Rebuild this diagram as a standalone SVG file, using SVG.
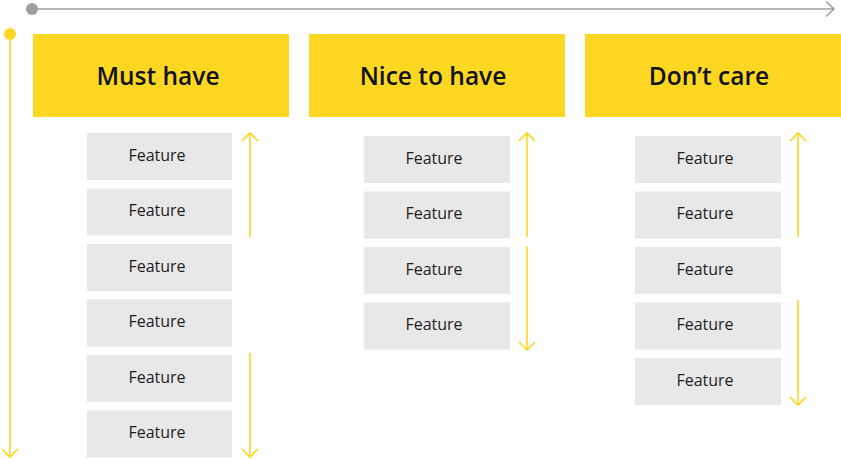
<svg xmlns="http://www.w3.org/2000/svg" width="841" height="459" viewBox="0 0 841 459">
<style>
.hdr{fill:#FDD722}
.ht{font-family:"Open Sans","Noto Sans",sans-serif;font-size:24.5px;font-weight:600;fill:#111;text-anchor:middle}
.fb{fill:#E8E8E8}
.ft{font-family:"Open Sans","Noto Sans",sans-serif;font-size:16px;fill:#1e1e1e;text-anchor:middle}
.ya{stroke:#FDD722;stroke-width:1.6;fill:none}
.ga{stroke:#9E9E9E;stroke-width:1.6;fill:none}
</style>
<rect width="841" height="459" fill="#fff"/>
<g id="axes">
<circle cx="32" cy="9" r="6" fill="#9E9E9E"/>
<path class="ga" d="M32 9H834M826 1.5L834 9L826 16.5"/>
<circle cx="10" cy="34" r="6" fill="#FDD722"/>
<path class="ya" d="M10 34V457M2 449L10 457L18 449"/>
</g>
<g id="must-have"><rect class="hdr" x="33" y="34" width="256" height="83"/><text class="ht" x="158" y="85">Must have</text></g>
<g id="nice-to-have"><rect class="hdr" x="309" y="34" width="256" height="83"/><text class="ht" x="433" y="85">Nice to have</text></g>
<g id="dont-care"><rect class="hdr" x="585" y="34" width="256" height="83"/><text class="ht" x="709" y="85">Don’t care</text></g>
<g id="col1">
<g id="c1f1"><rect class="fb" x="87" y="133" width="145" height="47"/><text class="ft" x="157" y="161">Feature</text></g>
<g id="c1f2"><rect class="fb" x="87" y="188.5" width="145" height="47"/><text class="ft" x="157" y="216">Feature</text></g>
<g id="c1f3"><rect class="fb" x="87" y="244" width="145" height="47"/><text class="ft" x="157" y="272">Feature</text></g>
<g id="c1f4"><rect class="fb" x="87" y="299.5" width="145" height="47"/><text class="ft" x="157" y="327">Feature</text></g>
<g id="c1f5"><rect class="fb" x="87" y="355" width="145" height="47"/><text class="ft" x="157" y="383">Feature</text></g>
<g id="c1f6"><rect class="fb" x="87" y="410.5" width="145" height="47"/><text class="ft" x="157" y="438">Feature</text></g>
</g>
<g id="col2">
<g id="c2f1"><rect class="fb" x="364" y="136" width="146" height="47"/><text class="ft" x="434" y="164">Feature</text></g>
<g id="c2f2"><rect class="fb" x="364" y="191.5" width="146" height="47"/><text class="ft" x="434" y="219">Feature</text></g>
<g id="c2f3"><rect class="fb" x="364" y="247" width="146" height="47"/><text class="ft" x="434" y="275">Feature</text></g>
<g id="c2f4"><rect class="fb" x="364" y="302.5" width="146" height="47"/><text class="ft" x="434" y="330">Feature</text></g>
</g>
<g id="col3">
<g id="c3f1"><rect class="fb" x="635" y="136" width="146" height="47"/><text class="ft" x="705" y="164">Feature</text></g>
<g id="c3f2"><rect class="fb" x="635" y="191.5" width="146" height="47"/><text class="ft" x="705" y="219">Feature</text></g>
<g id="c3f3"><rect class="fb" x="635" y="247" width="146" height="47"/><text class="ft" x="705" y="275">Feature</text></g>
<g id="c3f4"><rect class="fb" x="635" y="302.5" width="146" height="47"/><text class="ft" x="705" y="330">Feature</text></g>
<g id="c3f5"><rect class="fb" x="635" y="358" width="146" height="47"/><text class="ft" x="705" y="386">Feature</text></g>
</g>
<g id="connectors">
<path class="ya" d="M250 237V133M242 141L250 133L258 141"/>
<path class="ya" d="M250 353V457M242 449L250 457L258 449"/>
<path class="ya" d="M527 237V133M519 141L527 133L535 141"/>
<path class="ya" d="M527 246V350M519 342L527 350L535 342"/>
<path class="ya" d="M798 237V133M790 141L798 133L806 141"/>
<path class="ya" d="M798 300V405M790 397L798 405L806 397"/>
</g>
</svg>
